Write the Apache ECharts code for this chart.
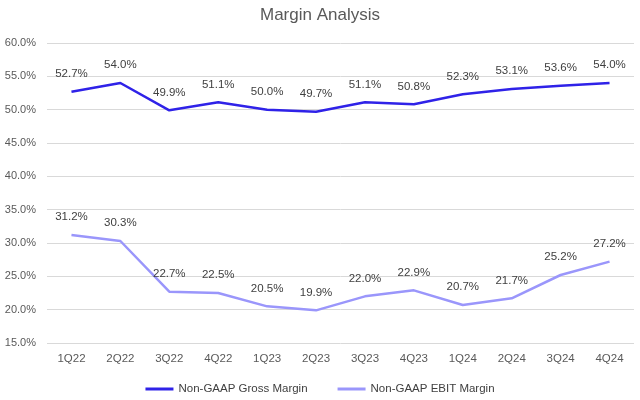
<!DOCTYPE html>
<html><head><meta charset="utf-8">
<script src="https://cdn.jsdelivr.net/npm/echarts@6/dist/echarts.min.js"></script>
<style>html,body{margin:0;padding:0;background:#fff}#c{width:640px;height:400px}</style>
</head><body><div id="c"></div>
<script>
const categories = ['1Q22','2Q22','3Q22','4Q22','1Q23','2Q23','3Q23','4Q23','1Q24','2Q24','3Q24','4Q24'];
const grossMargin = [52.7, 54.0, 49.9, 51.1, 50.0, 49.7, 51.1, 50.8, 52.3, 53.1, 53.6, 54.0];
const ebitMargin = [31.2, 30.3, 22.7, 22.5, 20.5, 19.9, 22.0, 22.9, 20.7, 21.7, 25.2, 27.2];
const seriesNames = ['Non-GAAP Gross Margin', 'Non-GAAP EBIT Margin'];
const FONT = 'Liberation Sans';
const chart = echarts.init(document.getElementById('c'));
const lbl = {show:true, position:'top', distance:12, color:'#404040', fontSize:11.5, fontFamily:FONT, formatter:p=>p.value.toFixed(1)+'%'};
chart.setOption({
  animation:false,
  title:{text:'Margin Analysis', left:'center', top:2, textStyle:{color:'#595959', fontSize:17, fontWeight:'normal', fontFamily:FONT}},
  legend:{bottom:0, left:'center', itemWidth:28, itemHeight:3, itemGap:30, icon:'rect',
    textStyle:{color:'#404040', fontSize:11.5, fontFamily:FONT}, data:seriesNames},
  grid:{left:47, right:6, top:43, bottom:57},
  xAxis:{type:'category', data:categories, boundaryGap:true,
    axisLine:{show:false}, axisTick:{show:false},
    axisLabel:{color:'#595959', fontSize:11.5, fontFamily:FONT, margin:10}},
  yAxis:{type:'value', min:15, max:60, interval:5,
    axisLine:{show:false}, axisTick:{show:false},
    splitLine:{lineStyle:{color:'#d9d9d9', width:1}},
    axisLabel:{color:'#595959', fontSize:11, fontFamily:FONT, margin:11, formatter:v=>v.toFixed(1)+'%'}},
  series:[
    {name:seriesNames[0], type:'line', data:grossMargin, symbol:'circle', symbolSize:0, lineStyle:{color:'#2f22e8', width:2.5}, itemStyle:{color:'#2f22e8'}, label:lbl},
    {name:seriesNames[1], type:'line', data:ebitMargin, symbol:'circle', symbolSize:0, lineStyle:{color:'#9a96fb', width:2.5}, itemStyle:{color:'#9a96fb'}, label:lbl}
  ]
});
</script></body></html>
